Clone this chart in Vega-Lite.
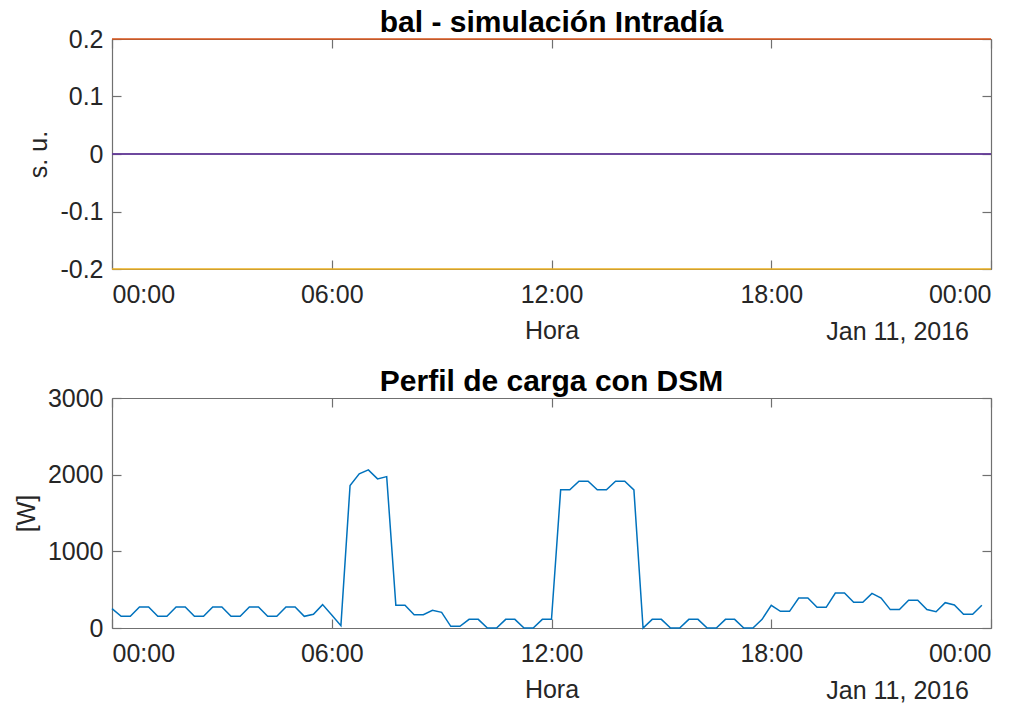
{
  "$schema": "https://vega.github.io/schema/vega-lite/v6.json",
  "padding": {"left": 14, "top": 8, "right": 37, "bottom": 5},
  "background": "white",
  "spacing": 22,
  "config": {
    "font": "Liberation Sans",
    "view": {"stroke": null},
    "axis": {"grid": false, "domainColor": "#707070", "tickColor": "#707070", "domainWidth": 1.2, "tickWidth": 1.2, "labelColor": "#262626", "titleColor": "#262626", "labelFont": "Liberation Sans", "titleFont": "Liberation Sans", "labelFontSize": 25, "titleFontSize": 25, "titleFontWeight": "normal", "tickSize": -9},
    "title": {"font": "Liberation Sans", "fontSize": 30, "fontWeight": "bold", "color": "#000000", "offset": -11}
  },
  "datasets": {
    "bal": [
      {"t": "2016-01-11T00:00:00Z", "v": 0, "s": "s1"},
      {"t": "2016-01-12T00:00:00Z", "v": 0, "s": "s1"},
      {"t": "2016-01-11T00:00:00Z", "v": 0.2, "s": "s2"},
      {"t": "2016-01-12T00:00:00Z", "v": 0.2, "s": "s2"},
      {"t": "2016-01-11T00:00:00Z", "v": -0.2, "s": "s3"},
      {"t": "2016-01-12T00:00:00Z", "v": -0.2, "s": "s3"},
      {"t": "2016-01-11T00:00:00Z", "v": 0, "s": "s4"},
      {"t": "2016-01-12T00:00:00Z", "v": 0, "s": "s4"}
    ],
    "carga": [
      {"t": "2016-01-11T00:00:00Z", "w": 253}, {"t": "2016-01-11T00:15:00Z", "w": 152}, {"t": "2016-01-11T00:30:00Z", "w": 152}, {"t": "2016-01-11T00:45:00Z", "w": 273},
      {"t": "2016-01-11T01:00:00Z", "w": 273}, {"t": "2016-01-11T01:15:00Z", "w": 152}, {"t": "2016-01-11T01:30:00Z", "w": 152}, {"t": "2016-01-11T01:45:00Z", "w": 273},
      {"t": "2016-01-11T02:00:00Z", "w": 273}, {"t": "2016-01-11T02:15:00Z", "w": 152}, {"t": "2016-01-11T02:30:00Z", "w": 152}, {"t": "2016-01-11T02:45:00Z", "w": 273},
      {"t": "2016-01-11T03:00:00Z", "w": 273}, {"t": "2016-01-11T03:15:00Z", "w": 152}, {"t": "2016-01-11T03:30:00Z", "w": 152}, {"t": "2016-01-11T03:45:00Z", "w": 273},
      {"t": "2016-01-11T04:00:00Z", "w": 273}, {"t": "2016-01-11T04:15:00Z", "w": 152}, {"t": "2016-01-11T04:30:00Z", "w": 152}, {"t": "2016-01-11T04:45:00Z", "w": 273},
      {"t": "2016-01-11T05:00:00Z", "w": 273}, {"t": "2016-01-11T05:15:00Z", "w": 152}, {"t": "2016-01-11T05:30:00Z", "w": 178}, {"t": "2016-01-11T05:45:00Z", "w": 305},
      {"t": "2016-01-11T06:00:00Z", "w": 170}, {"t": "2016-01-11T06:15:00Z", "w": 31}, {"t": "2016-01-11T06:30:00Z", "w": 1858}, {"t": "2016-01-11T06:45:00Z", "w": 2010},
      {"t": "2016-01-11T07:00:00Z", "w": 2062}, {"t": "2016-01-11T07:15:00Z", "w": 1945}, {"t": "2016-01-11T07:30:00Z", "w": 1975}, {"t": "2016-01-11T07:45:00Z", "w": 296},
      {"t": "2016-01-11T08:00:00Z", "w": 296}, {"t": "2016-01-11T08:15:00Z", "w": 174}, {"t": "2016-01-11T08:30:00Z", "w": 174}, {"t": "2016-01-11T08:45:00Z", "w": 230},
      {"t": "2016-01-11T09:00:00Z", "w": 204}, {"t": "2016-01-11T09:15:00Z", "w": 22}, {"t": "2016-01-11T09:30:00Z", "w": 22}, {"t": "2016-01-11T09:45:00Z", "w": 113},
      {"t": "2016-01-11T10:00:00Z", "w": 113}, {"t": "2016-01-11T10:15:00Z", "w": 0}, {"t": "2016-01-11T10:30:00Z", "w": 0}, {"t": "2016-01-11T10:45:00Z", "w": 113},
      {"t": "2016-01-11T11:00:00Z", "w": 113}, {"t": "2016-01-11T11:15:00Z", "w": 0}, {"t": "2016-01-11T11:30:00Z", "w": 0}, {"t": "2016-01-11T11:45:00Z", "w": 113},
      {"t": "2016-01-11T12:00:00Z", "w": 113}, {"t": "2016-01-11T12:15:00Z", "w": 1802}, {"t": "2016-01-11T12:30:00Z", "w": 1802}, {"t": "2016-01-11T12:45:00Z", "w": 1915},
      {"t": "2016-01-11T13:00:00Z", "w": 1915}, {"t": "2016-01-11T13:15:00Z", "w": 1802}, {"t": "2016-01-11T13:30:00Z", "w": 1802}, {"t": "2016-01-11T13:45:00Z", "w": 1915},
      {"t": "2016-01-11T14:00:00Z", "w": 1915}, {"t": "2016-01-11T14:15:00Z", "w": 1802}, {"t": "2016-01-11T14:30:00Z", "w": 0}, {"t": "2016-01-11T14:45:00Z", "w": 113},
      {"t": "2016-01-11T15:00:00Z", "w": 113}, {"t": "2016-01-11T15:15:00Z", "w": 0}, {"t": "2016-01-11T15:30:00Z", "w": 0}, {"t": "2016-01-11T15:45:00Z", "w": 113},
      {"t": "2016-01-11T16:00:00Z", "w": 113}, {"t": "2016-01-11T16:15:00Z", "w": 0}, {"t": "2016-01-11T16:30:00Z", "w": 0}, {"t": "2016-01-11T16:45:00Z", "w": 113},
      {"t": "2016-01-11T17:00:00Z", "w": 113}, {"t": "2016-01-11T17:15:00Z", "w": 0}, {"t": "2016-01-11T17:30:00Z", "w": 0}, {"t": "2016-01-11T17:45:00Z", "w": 113},
      {"t": "2016-01-11T18:00:00Z", "w": 296}, {"t": "2016-01-11T18:15:00Z", "w": 217}, {"t": "2016-01-11T18:30:00Z", "w": 217}, {"t": "2016-01-11T18:45:00Z", "w": 391},
      {"t": "2016-01-11T19:00:00Z", "w": 391}, {"t": "2016-01-11T19:15:00Z", "w": 270}, {"t": "2016-01-11T19:30:00Z", "w": 270}, {"t": "2016-01-11T19:45:00Z", "w": 456},
      {"t": "2016-01-11T20:00:00Z", "w": 456}, {"t": "2016-01-11T20:15:00Z", "w": 335}, {"t": "2016-01-11T20:30:00Z", "w": 335}, {"t": "2016-01-11T20:45:00Z", "w": 452},
      {"t": "2016-01-11T21:00:00Z", "w": 391}, {"t": "2016-01-11T21:15:00Z", "w": 240}, {"t": "2016-01-11T21:30:00Z", "w": 240}, {"t": "2016-01-11T21:45:00Z", "w": 361},
      {"t": "2016-01-11T22:00:00Z", "w": 361}, {"t": "2016-01-11T22:15:00Z", "w": 240}, {"t": "2016-01-11T22:30:00Z", "w": 213}, {"t": "2016-01-11T22:45:00Z", "w": 330},
      {"t": "2016-01-11T23:00:00Z", "w": 300}, {"t": "2016-01-11T23:15:00Z", "w": 178}, {"t": "2016-01-11T23:30:00Z", "w": 178}, {"t": "2016-01-11T23:45:00Z", "w": 296}
    ],
    "fecha": [{"label": "Jan 11, 2016"}]
  },
  "vconcat": [
    {
      "title": "bal - simulación Intradía",
      "width": 879,
      "height": 230,
      "layer": [
        {
          "data": {"name": "bal"},
          "mark": {"type": "line", "strokeWidth": 1.5, "clip": false},
          "encoding": {
            "x": {"field": "t", "type": "temporal",
              "scale": {"type": "utc", "domain": [{"year": 2016, "month": 1, "date": 11, "utc": true}, {"year": 2016, "month": 1, "date": 12, "utc": true}]},
              "axis": {"orient": "bottom", "title": "Hora", "labelExpr": "utcFormat(datum.value, '%H:%M')", "labelPadding": 22, "titlePadding": 11,
                "values": [{"year": 2016, "month": 1, "date": 11, "hours": 0, "utc": true}, {"year": 2016, "month": 1, "date": 11, "hours": 6, "utc": true}, {"year": 2016, "month": 1, "date": 11, "hours": 12, "utc": true}, {"year": 2016, "month": 1, "date": 11, "hours": 18, "utc": true}, {"year": 2016, "month": 1, "date": 12, "hours": 0, "utc": true}]}},
            "y": {"field": "v", "type": "quantitative",
              "scale": {"domain": [-0.2, 0.2], "nice": false, "zero": false},
              "axis": {"orient": "left", "title": "s. u.", "values": [-0.2, -0.1, 0, 0.1, 0.2], "labelExpr": "'' + datum.value", "labelPadding": 18, "titlePadding": 8}},
            "color": {"field": "s", "type": "nominal", "legend": null,
              "scale": {"domain": ["s1", "s2", "s3", "s4"], "range": ["#0072BD", "#D95319", "#EDB120", "#7E2F8E"]}}
          }
        },
        {
          "data": {"name": "fecha"},
          "mark": {"type": "text", "align": "right", "baseline": "top", "dy": 51, "dx": -22, "fontSize": 25, "color": "#262626", "font": "Liberation Sans"},
          "encoding": {
            "text": {"field": "label"},
            "x": {"datum": {"year": 2016, "month": 1, "date": 12, "utc": true}, "type": "temporal",
              "axis": {"orient": "top", "labels": false, "title": null, "minExtent": 0, "maxExtent": 0,
                "values": [{"year": 2016, "month": 1, "date": 11, "hours": 0, "utc": true}, {"year": 2016, "month": 1, "date": 11, "hours": 6, "utc": true}, {"year": 2016, "month": 1, "date": 11, "hours": 12, "utc": true}, {"year": 2016, "month": 1, "date": 11, "hours": 18, "utc": true}, {"year": 2016, "month": 1, "date": 12, "hours": 0, "utc": true}]}},
            "y": {"datum": -0.2, "type": "quantitative",
              "axis": {"orient": "right", "labels": false, "title": null, "minExtent": 0, "maxExtent": 0, "values": [-0.2, -0.1, 0, 0.1, 0.2]}}
          }
        }
      ]
    },
    {
      "title": "Perfil de carga con DSM",
      "width": 879,
      "height": 230,
      "layer": [
        {
          "data": {"name": "carga"},
          "mark": {"type": "line", "strokeWidth": 1.5, "color": "#0072BD", "clip": false},
          "encoding": {
            "x": {"field": "t", "type": "temporal",
              "scale": {"type": "utc", "domain": [{"year": 2016, "month": 1, "date": 11, "utc": true}, {"year": 2016, "month": 1, "date": 12, "utc": true}]},
              "axis": {"orient": "bottom", "title": "Hora", "labelExpr": "utcFormat(datum.value, '%H:%M')", "labelPadding": 22, "titlePadding": 11,
                "values": [{"year": 2016, "month": 1, "date": 11, "hours": 0, "utc": true}, {"year": 2016, "month": 1, "date": 11, "hours": 6, "utc": true}, {"year": 2016, "month": 1, "date": 11, "hours": 12, "utc": true}, {"year": 2016, "month": 1, "date": 11, "hours": 18, "utc": true}, {"year": 2016, "month": 1, "date": 12, "hours": 0, "utc": true}]}},
            "y": {"field": "w", "type": "quantitative",
              "scale": {"domain": [0, 3000], "nice": false},
              "axis": {"orient": "left", "title": "[W]", "values": [0, 1000, 2000, 3000], "format": "d", "labelPadding": 18, "titlePadding": 8}}
          }
        },
        {
          "data": {"name": "fecha"},
          "mark": {"type": "text", "align": "right", "baseline": "top", "dy": 51, "dx": -22, "fontSize": 25, "color": "#262626", "font": "Liberation Sans"},
          "encoding": {
            "text": {"field": "label"},
            "x": {"datum": {"year": 2016, "month": 1, "date": 12, "utc": true}, "type": "temporal",
              "axis": {"orient": "top", "labels": false, "title": null, "minExtent": 0, "maxExtent": 0,
                "values": [{"year": 2016, "month": 1, "date": 11, "hours": 0, "utc": true}, {"year": 2016, "month": 1, "date": 11, "hours": 6, "utc": true}, {"year": 2016, "month": 1, "date": 11, "hours": 12, "utc": true}, {"year": 2016, "month": 1, "date": 11, "hours": 18, "utc": true}, {"year": 2016, "month": 1, "date": 12, "hours": 0, "utc": true}]}},
            "y": {"datum": 0, "type": "quantitative",
              "axis": {"orient": "right", "labels": false, "title": null, "minExtent": 0, "maxExtent": 0, "values": [0, 1000, 2000, 3000]}}
          }
        }
      ]
    }
  ]
}
